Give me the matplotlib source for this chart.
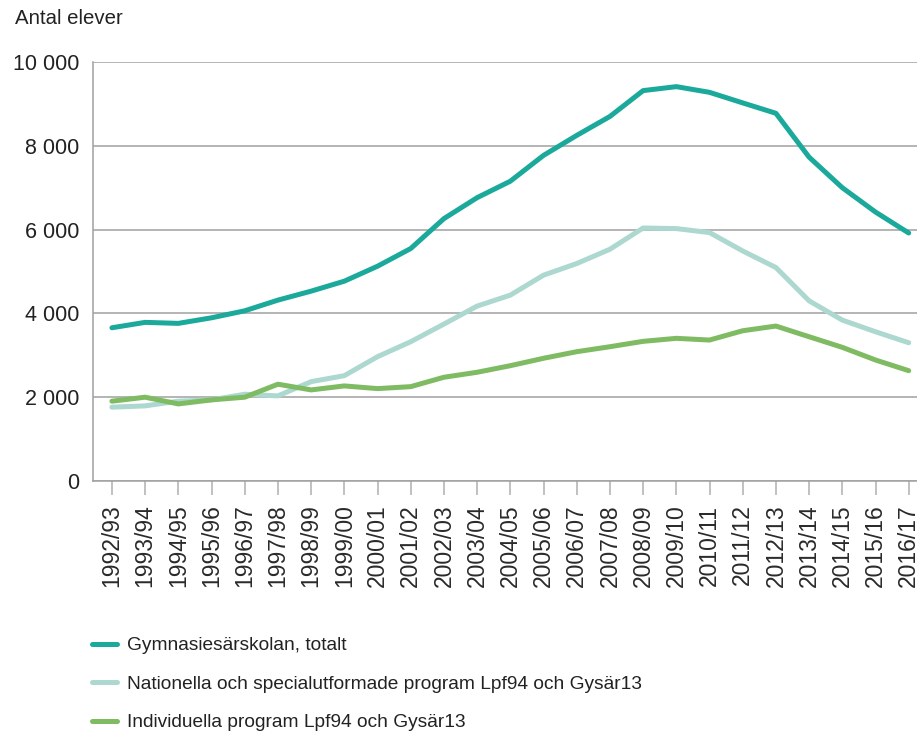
import numpy as np
import matplotlib
matplotlib.use("Agg")
import matplotlib.pyplot as plt
from matplotlib.ticker import FuncFormatter

plt.rcParams['font.family'] = ['Liberation Sans', 'DejaVu Sans']

years = ['1992/93', '1993/94', '1994/95', '1995/96', '1996/97', '1997/98',
         '1998/99', '1999/00', '2000/01', '2001/02', '2002/03', '2003/04',
         '2004/05', '2005/06', '2006/07', '2007/08', '2008/09', '2009/10',
         '2010/11', '2011/12', '2012/13', '2013/14', '2014/15', '2015/16',
         '2016/17']

totalt = [3657, 3786, 3762, 3895, 4062, 4317, 4531, 4769, 5126, 5548,
          6262, 6762, 7155, 7771, 8248, 8700, 9317, 9412, 9276, 9024,
          8776, 7729, 7000, 6419, 5919]

nationella = [1762, 1793, 1905, 1936, 2071, 2031, 2371, 2514, 2967, 3324,
              3745, 4174, 4436, 4912, 5190, 5531, 6038, 6024, 5929, 5490,
              5095, 4300, 3840, 3562, 3300]

individuella = [1905, 2000, 1840, 1936, 2000, 2310, 2174, 2269, 2205, 2252,
                2476, 2595, 2752, 2929, 3086, 3205, 3333, 3405, 3364, 3586,
                3698, 3443, 3190, 2888, 2633]

labels = ['Gymnasiesärskolan, totalt',
          'Nationella och specialutformade program Lpf94 och Gysär13',
          'Individuella program Lpf94 och Gysär13']
colors = ['#1aa99a', '#acd8d0', '#7fbb62']

fig = plt.figure(figsize=(9.17, 7.31), dpi=100)
ax = fig.add_axes([93/917, 1 - 481/731, 1 - 93/917, (481 - 62)/731])

x = np.arange(len(years))
lines = []
for vals, c, lab in zip([totalt, nationella, individuella], colors, labels):
    ln, = ax.plot(x, vals, color=c, lw=3.6, solid_capstyle='round',
                  solid_joinstyle='round', label=lab, zorder=3)
    lines.append(ln)

ax.set_ylim(0, 10000)
ax.set_xlim(-0.57, 24.25)
ax.set_yticks(range(0, 10001, 2000))
ax.yaxis.set_major_formatter(FuncFormatter(lambda v, p: f'{int(v):,}'.replace(',', ' ')))
ax.set_xticks(x)
ax.set_xticklabels(years, rotation=90, fontsize=16.5, color='#2a2a2a')

ax.grid(axis='y', color='#a0a0a0', lw=1.1)
ax.set_axisbelow(True)
for s in ['top', 'right']:
    ax.spines[s].set_visible(False)
for s in ['left', 'bottom']:
    ax.spines[s].set_color('#a0a0a0')
    ax.spines[s].set_linewidth(1.1)
ax.tick_params(axis='y', length=0, pad=10, labelsize=15.5, labelcolor='#222222')
ax.tick_params(axis='x', length=10, width=1.1, color='#b0b0b0', pad=7)

fig.text(15/917, 1 - 19/731, 'Antal elever', fontsize=14.7, color='#222222',
         va='center', ha='left')

leg = fig.legend(handles=lines, loc='upper left', bbox_to_anchor=(92/917, 1 - 637/731),
                 frameon=False, handlelength=1.3, handletextpad=0.55, labelspacing=1.1,
                 prop={'size': 13.8}, borderaxespad=0, borderpad=0)
for t in leg.get_texts():
    t.set_color('#222222')

fig.savefig('out.png', dpi=100)
